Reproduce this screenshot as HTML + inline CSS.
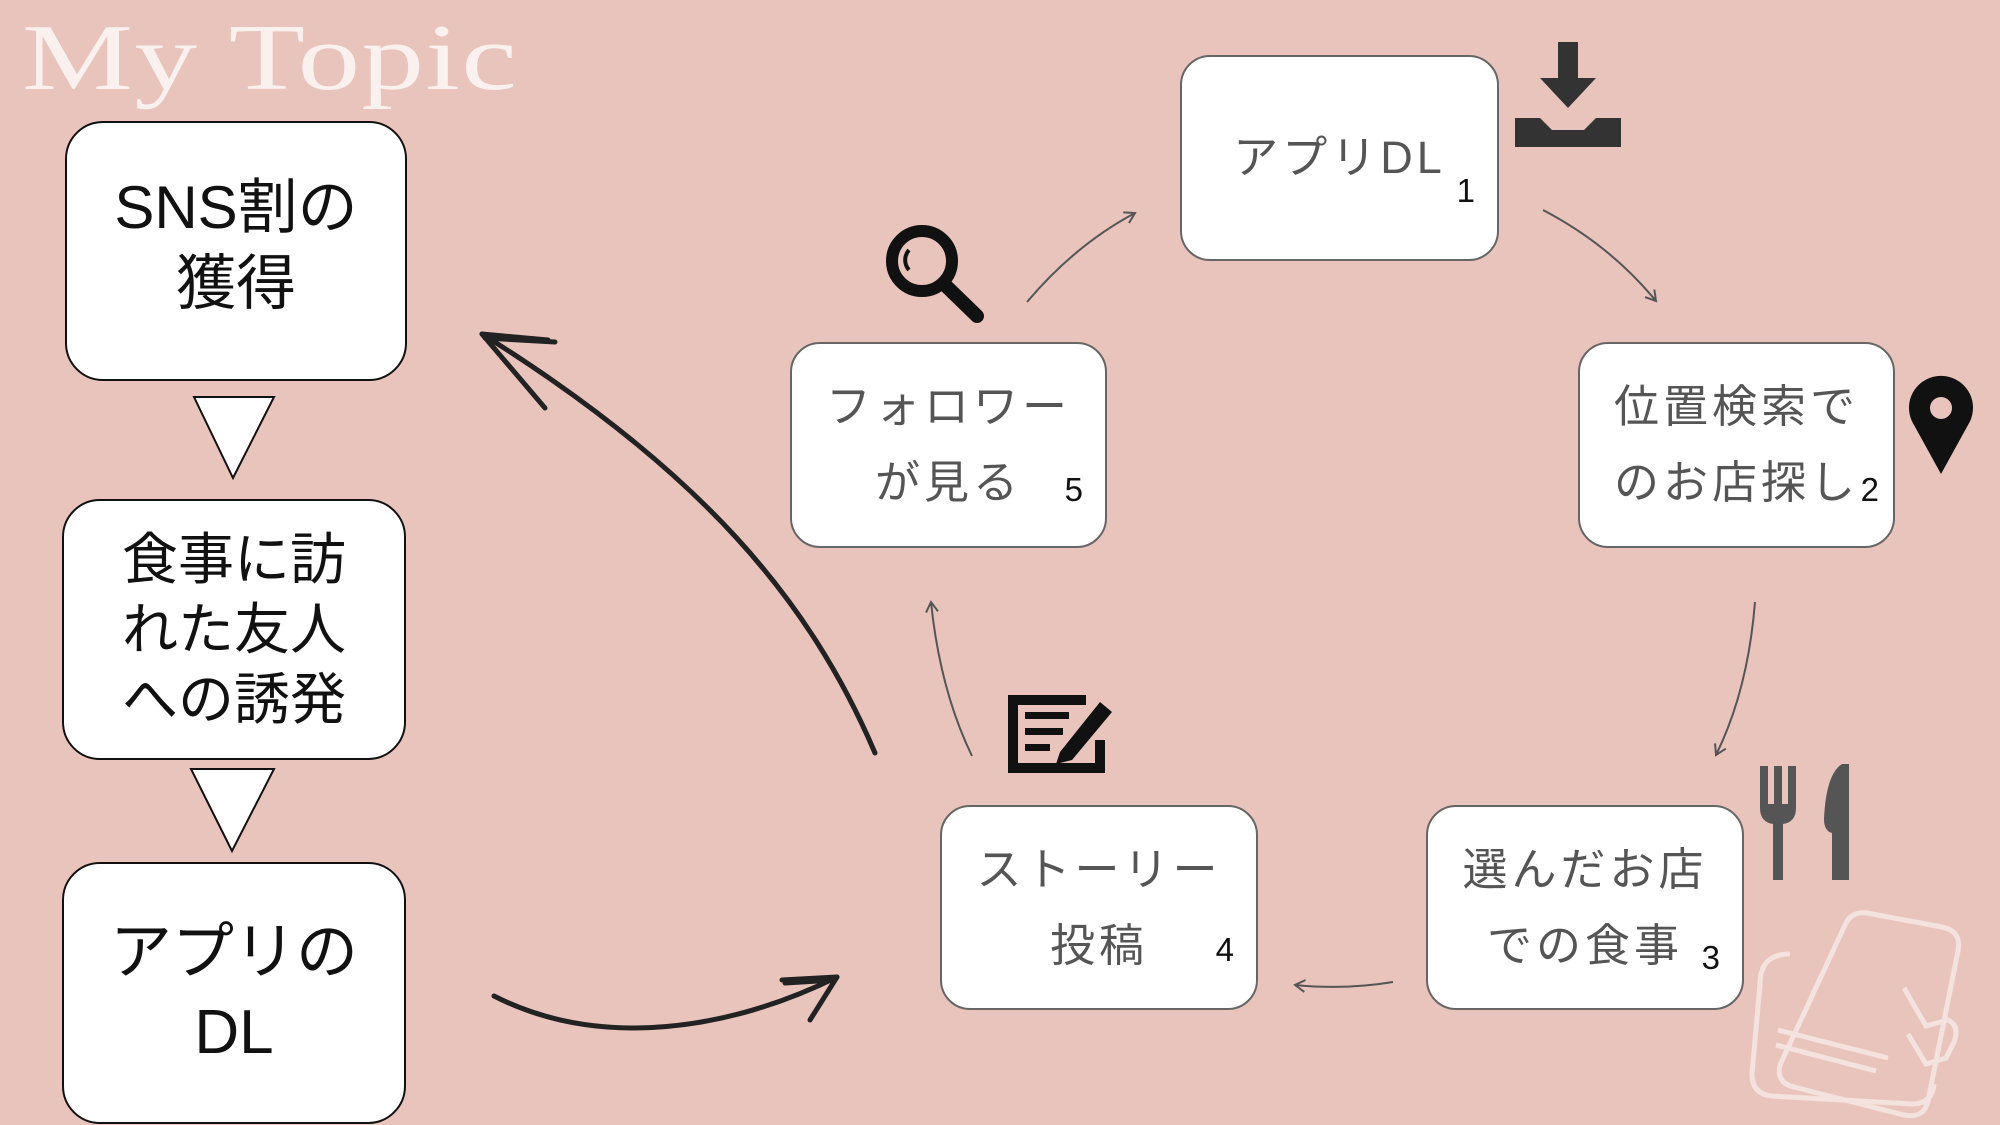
<!DOCTYPE html>
<html><head><meta charset="utf-8"><style>
html,body{margin:0;padding:0}
body{width:2000px;height:1125px;background:#e9c4bd;position:relative;overflow:hidden;font-family:"Liberation Sans","Noto Sans CJK JP",sans-serif}
.t{position:absolute;left:22px;top:4px;font-family:"Liberation Serif",serif;font-size:94px;color:rgba(255,255,255,0.75);letter-spacing:1px;transform:scaleX(1.33);transform-origin:0 0}
.lb{position:absolute;background:#fff;border:2px solid #111;border-radius:38px;box-sizing:border-box;display:flex;align-items:center;justify-content:center;text-align:center;font-size:60px;line-height:76px;color:#111}
.rb{position:absolute;background:#fff;border:2px solid #666;border-radius:30px;box-sizing:border-box;display:flex;align-items:center;justify-content:center;text-align:center;font-size:45px;line-height:76px;color:#555;letter-spacing:4px}
.n{position:absolute;font-size:33px;color:#111;letter-spacing:0}
svg{position:absolute;left:0;top:0}
</style></head><body>
<div class="t">My Topic</div>
<div class="lb" style="left:65px;top:121px;width:342px;height:260px;padding-bottom:10px">SNS割の<br>獲得</div>
<div class="lb" style="left:62px;top:499px;width:344px;height:261px;font-size:56px;line-height:70px">食事に訪<br>れた友人<br>への誘発</div>
<div class="lb" style="left:62px;top:862px;width:344px;height:262px;font-size:62px;line-height:80px">アプリの<br>DL</div>

<div class="rb" style="left:1180px;top:55px;width:319px;height:206px">アプリDL<span class="n" style="right:22px;bottom:30px">1</span></div>
<div class="rb" style="left:1578px;top:342px;width:317px;height:206px">位置検索で<br>のお店探し<span class="n" style="right:14px;bottom:18px">2</span></div>
<div class="rb" style="left:1426px;top:805px;width:318px;height:205px">選んだお店<br>での食事<span class="n" style="right:22px;bottom:12px">3</span></div>
<div class="rb" style="left:940px;top:805px;width:318px;height:205px">ストーリー<br>投稿<span class="n" style="right:22px;bottom:20px">4</span></div>
<div class="rb" style="left:790px;top:342px;width:317px;height:206px">フォロワー<br>が見る<span class="n" style="right:22px;bottom:18px">5</span></div>

<svg width="2000" height="1125" viewBox="0 0 2000 1125">
<defs><marker id="a" markerWidth="14" markerHeight="14" refX="11" refY="7" orient="auto" markerUnits="userSpaceOnUse"><path d="M1,1 L11,7 L1,13" fill="none" stroke="#555" stroke-width="2"/></marker></defs>
<polygon points="194,397 274,397 233,478" fill="#fff" stroke="#111" stroke-width="2"/>
<polygon points="191,769 274,769 232,851" fill="#fff" stroke="#111" stroke-width="2"/>
<g fill="none" stroke="#555" stroke-width="2" marker-end="url(#a)">
<path d="M1027,302 Q1075,245 1135,213"/>
<path d="M1543,210 Q1610,245 1656,301"/>
<path d="M1755,602 Q1748,690 1716,755"/>
<path d="M1393,982 Q1345,990 1295,985"/>
<path d="M972,756 Q940,690 931,602"/>
</g>
<g fill="none" stroke="#222" stroke-width="5" stroke-linecap="round">
<path d="M875,753 C810,600 700,470 482,334"/>
<path d="M482,334 L548,340 M482,334 L545,408 M485,338 L555,342"/>
<path d="M494,996 C600,1050 730,1030 837,977"/>
<path d="M837,977 L782,980 M837,977 L810,1020 M835,980 L785,983"/>
</g>
<g fill="#333">
<rect x="1558" y="42" width="20" height="50"/>
<polygon points="1540,78 1596,78 1568,108"/>
<path d="M1515,118 h25 l12,12 h32 l12,-12 h25 v29 h-106z"/>
</g>
<g>
<circle cx="922" cy="261" r="30" fill="none" stroke="#111" stroke-width="12"/>
<path d="M909,250 a15,15 0 0 0 0,20" fill="none" stroke="#111" stroke-width="4"/>
<line x1="944" y1="284" x2="977" y2="316" stroke="#111" stroke-width="14" stroke-linecap="round"/>
</g>
<path d="M1941,474 L1914,425 A32,32 0 1 1 1968,425 Z" fill="#111"/>
<circle cx="1941" cy="408" r="11" fill="#e9c4bd"/>
<g>
<path d="M1086,700 H1013 V768 H1100 V740" fill="none" stroke="#111" stroke-width="10"/>
<rect x="1025" y="712" width="44" height="7" fill="#111"/>
<rect x="1025" y="728" width="38" height="7" fill="#111"/>
<rect x="1025" y="744" width="25" height="7" fill="#111"/>
<path d="M1060,752 L1100,702 L1112,712 L1072,760 L1056,764 Z" fill="#111"/>
</g>
<g fill="#555">
<path d="M1760,766 h8 v38 h6 v-38 h8 v38 h6 v-38 h8 v42 q0,14 -13,16 v56 h-10 v-56 q-13,-2 -13,-16z"/>
<path d="M1842,764 q-16,10 -18,55 q0,12 8,14 v47 h17 v-116z"/>
</g>
<g fill="none" stroke="#f6e6e2" stroke-width="5" opacity="0.9">
<path d="M1790,954 q-30,0 -30,30 l-8,90 q0,20 20,22 l140,8 q20,0 22,-20"/>
<path d="M1845,925 q6,-14 22,-12 l75,14 q20,4 16,24 l-30,150 q-4,18 -24,14 l-110,-28 q-18,-4 -14,-22z"/>
<path d="M1778,1030 l110,28 M1776,1045 l100,26"/>
<path d="M1904,988 l22,38 l22,-6 q12,6 6,22 l-8,16 l-20,6 l-18,-30"/>
</g>
</svg>
</body></html>
